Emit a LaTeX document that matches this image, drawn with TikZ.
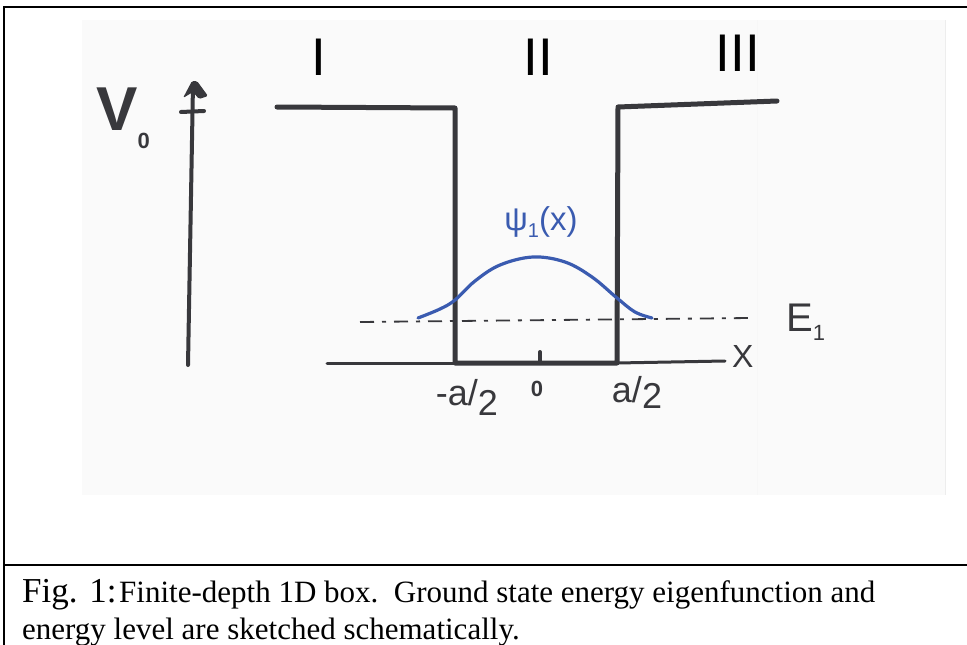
\documentclass[tikz,border=0pt]{standalone}
\usepackage{fontspec}
\setmainfont{Liberation Serif}
\newfontfamily\sansf{Liberation Sans}
\definecolor{ink}{HTML}{38383C}
\definecolor{blueink}{HTML}{3A5BB0}
\begin{document}
\begin{tikzpicture}[x=1pt,y=-1pt,
  sk/.style={draw=ink,line width=4pt,line cap=round,line join=round},
  axline/.style={draw=ink,line width=3pt,line cap=round},
  frameline/.style={draw=black,line width=2.5pt},
  lbl/.style={inner sep=0pt,text=ink},
  roman/.style={inner sep=0pt,font=\sansf\fontsize{53}{53}\selectfont,anchor=base},
  captxt/.style={inner sep=0pt,anchor=base west}]
\useasboundingbox (0,0) rectangle (967,645);
% scanned sketch background
\fill[black!2] (82,20) rectangle (945,495);
\draw[black!7,line width=1pt] (945,20) -- (945,495);
\draw[black!3,line width=1pt] (757,20) -- (757,495);
% frame
\draw[frameline] (4,645) -- (4,7) -- (967,7);
\draw[frameline] (4,565) -- (967,565);
% region labels
\node[roman] (r1) at (318.5,75) {I};
\node[roman] (r2) at (538,75) {II};
\node[roman] (r3) at (738,71) {III};
% vertical axis
\coordinate (vb) at (188,365);
\coordinate (vt) at (193,84);
\coordinate (cbl) at (181,112);
\coordinate (cbr) at (204,111);
\draw[sk] (vb) -- (vt);
\fill[ink,rounded corners=1.5pt] (183,98) -- (192,81) -- (197,81) -- (208,96) -- (199,99) -- (193,92) -- cycle;
\draw[sk] (cbl) -- (cbr);
\node[lbl,font=\sansf\bfseries\fontsize{62}{62}\selectfont,anchor=base west] (v0) at (96,130) {V\raisebox{-18pt}{\fontsize{22}{22}\selectfont 0}};
% potential
\coordinate (pl0) at (277,107);
\coordinate (pl1) at (455,108);
\coordinate (wb0) at (455,363);
\coordinate (wb1) at (617,363);
\coordinate (pr1) at (618,107);
\coordinate (pr0) at (777,101);
\draw[sk,line width=5pt] (pl0) -- (pl1) -- (wb0) -- (wb1) -- (pr1) -- (pr0);
% x axis
\coordinate (ax0) at (327,363);
\coordinate (ax1) at (725,361);
\draw[axline] (ax0) -- (wb0);
\draw[axline] (wb1) -- (ax1);
\coordinate (tk0) at (540,352);
\coordinate (tk1) at (540,363);
\draw[sk] (tk0) -- (tk1);
\node[lbl,font=\sansf\fontsize{32}{32}\selectfont,anchor=base west] (xl) at (732,367) {X};
% energy level
\coordinate (e0) at (360,322);
\coordinate (e1) at (750,318);
\draw[ink,line width=1.8pt,dash pattern=on 14pt off 8pt on 4pt off 8pt] (e0) -- (e1);
\node[lbl,font=\sansf\fontsize{40}{40}\selectfont,anchor=base west] (el) at (786,331) {E\raisebox{-9pt}{\fontsize{22}{22}\selectfont 1}};
% wave function
\draw[blueink,line width=3.2pt,line cap=round] plot[smooth,tension=0.6] coordinates {(418,318) (440,309) (455,300) (475,281) (500,265) (533,257) (565,262) (592,277) (617,298) (635,312) (652,318)};
\node[inner sep=0pt,text=blueink,font=\sansf\fontsize{33}{33}\selectfont] (psi) at (541,222) {ψ\raisebox{-7pt}{\fontsize{20}{20}\selectfont 1}(x)};
% tick labels
\node[lbl,font=\sansf\fontsize{36}{36}\selectfont] (lm) at (467,397) {-a/\raisebox{-10pt}{2}};
\node[lbl,font=\sansf\bfseries\fontsize{22}{22}\selectfont] (lz) at (537,389) {0};
\node[lbl,font=\sansf\fontsize{36}{36}\selectfont] (lp) at (637,392) {a/\raisebox{-6pt}{2}};
% caption
\node[captxt,font=\fontsize{35}{35}\selectfont] (fig) at (22,602) {Fig. 1:};
\node[captxt,font=\fontsize{31}{31}\selectfont] (c1) at (119,602) {Finite-depth 1D box.\ \ Ground state energy eigenfunction and};
\node[captxt,font=\fontsize{31}{31}\selectfont] (c2) at (22,639) {energy level are sketched schematically.};
\end{tikzpicture}
\end{document}
